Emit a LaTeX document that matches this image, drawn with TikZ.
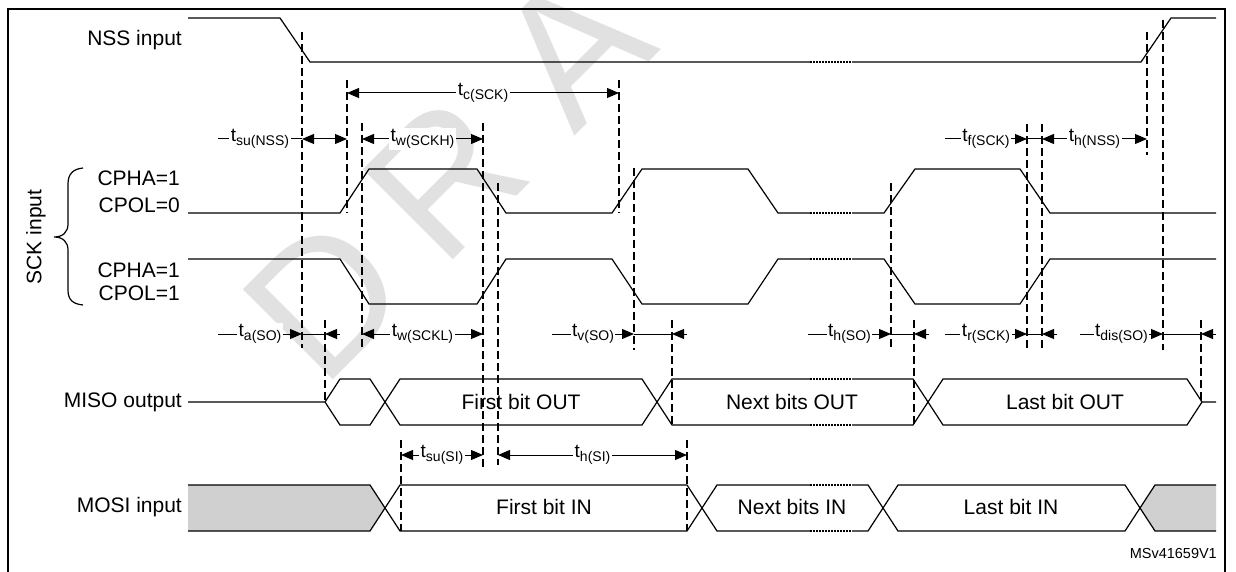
\documentclass[tikz,border=0pt]{standalone}
\usepackage{fontspec}
\setmainfont{Liberation Sans}
\usepackage{tikz}
\usetikzlibrary{arrows.meta}
\definecolor{mosigray}{RGB}{208, 208, 208}
\definecolor{wmgray}{RGB}{225, 225, 225}
\newcommand{\tparam}[1]{t\raisebox{-0.35ex}{\fontsize{14}{14}\selectfont #1}}

\begin{document}
\begin{tikzpicture}[
  x=1pt, y=-1pt,
  wave/.style   = {line width=1.2pt, line join=miter},
  dots/.style   = {line width=1.2pt, dash pattern=on 1.5pt off 1.5pt},
  guide/.style  = {line width=1.1pt, dash pattern=on 8pt off 4pt},
  dim/.style    = {{Triangle[length=12pt,width=10pt]}-{Triangle[length=12pt,width=10pt]}, line width=1pt},
  lead/.style   = {-{Triangle[length=12pt,width=10pt]}, line width=1pt},
  sig/.style    = {anchor=east, font=\fontsize{21}{25}\selectfont, inner sep=0pt},
  tlbl/.style   = {fill=white, inner sep=1.5pt, font=\fontsize{19}{22}\selectfont},
  data/.style   = {font=\fontsize{21}{25}\selectfont, inner sep=0pt},
  wmark/.style  = {text=wmgray, rotate=45, font=\fontsize{185}{185}\selectfont, inner sep=0pt},
]
  \useasboundingbox (0,0) rectangle (1236,572);

  % Watermark
  \foreach \ch/\cx/\cy in {D/325/298, R/445/178, A/573/48}
    \node[wmark] (wm\ch) at (\cx,\cy) {\ch};

  % Frame
  \draw[line width=2.6pt] (8,600) -- (8,9) -- (1225,9) -- (1225,600);

  % Signal names
  \node[sig] (nss)  at (182,40)  {NSS input};
  \node[sig] (cpha0) at (180,178) {CPHA=1};
  \node[sig] (cpol0) at (180,205) {CPOL=0};
  \node[sig] (cpha1) at (180,270) {CPHA=1};
  \node[sig] (cpol1) at (180,293) {CPOL=1};
  \node[sig] (miso) at (182,402) {MISO output};
  \node[sig] (mosi) at (182,507) {MOSI input};
  \node[sig, anchor=center, rotate=90] (sck) at (36,237) {SCK input};
  \draw[wave] (83,168) .. controls (73,169) and (68,174) .. (68,184) -- (68,224)
    .. controls (68,232) and (63,237) .. (54,237) .. controls (63,237) and (68,242) .. (68,250)
    -- (68,290) .. controls (68,300) and (73,304) .. (83,305);

  % Guides
  \foreach \gx/\ga/\gb in {302/32/348, 347/80/213, 362/123/350, 483/123/468,
      498/183/465, 619/80/213, 634/168/350, 672/320/425, 687/440/531,
      401/440/531, 891/183/348, 914/320/425, 1027/124/350, 1042/124/350,
      1147/32/155, 1163/20/350, 1201/320/400, 325/320/402}
    \draw[guide] (\gx,\ga) -- (\gx,\gb);

  % NSS
  \draw[wave] (188,18) -- (280,18) -- (310,62) -- (810,62);
  \draw[dots] (810,62) -- (852,62);
  \draw[wave] (852,62) -- (1141,62) -- (1171,18) -- (1216,18);

  % SCK, CPOL=0
  \draw[wave] (188,213) -- (340,213) -- (369,169) -- (477,169) -- (506,213) -- (612,213)
    -- (642,169) -- (748,169) -- (778,213) -- (810,213);
  \draw[dots] (810,213) -- (852,213);
  \draw[wave] (852,213) -- (884,213) -- (915,169) -- (1020,169) -- (1050,213) -- (1216,213);

  % SCK, CPOL=1
  \draw[wave] (188,259) -- (340,259) -- (369,304) -- (477,304) -- (506,259) -- (612,259)
    -- (642,304) -- (748,304) -- (778,259) -- (810,259);
  \draw[dots] (810,259) -- (852,259);
  \draw[wave] (852,259) -- (884,259) -- (915,304) -- (1020,304) -- (1050,259) -- (1216,259);

  % MISO
  \draw[wave] (188,402) -- (325,402) -- (340,379) -- (370,379) -- (400,425) -- (642,425)
    -- (672,379) -- (810,379);
  \draw[wave] (325,402) -- (340,425) -- (370,425) -- (400,379) -- (642,379) -- (672,425) -- (810,425);
  \draw[dots] (810,379) -- (852,379) (810,425) -- (852,425);
  \draw[wave] (852,379) -- (913,379) -- (943,425) -- (1187,425) -- (1202,402) -- (1216,402);
  \draw[wave] (852,425) -- (913,425) -- (943,379) -- (1187,379) -- (1202,402);
  \node[data] (bout1) at (521,402) {First bit OUT};
  \node[data] (boutn) at (792,402) {Next bits OUT};
  \node[data] (boutl) at (1065,402) {Last bit OUT};

  % MOSI
  \fill[mosigray] (188,485) -- (370,485) -- (385,508) -- (370,531) -- (188,531) -- cycle;
  \fill[mosigray] (1140,508) -- (1155,485) -- (1216,485) -- (1216,531) -- (1155,531) -- cycle;
  \draw[wave] (188,485) -- (370,485) -- (400,531) -- (687,531) -- (717,485) -- (810,485);
  \draw[wave] (188,531) -- (370,531) -- (400,485) -- (687,485) -- (717,531) -- (810,531);
  \draw[dots] (810,485) -- (852,485) (810,531) -- (852,531);
  \draw[wave] (852,485) -- (868,485) -- (898,531) -- (1125,531) -- (1155,485) -- (1216,485);
  \draw[wave] (852,531) -- (868,531) -- (898,485) -- (1125,485) -- (1155,531) -- (1216,531);
  \node[data] (bin1) at (544,507) {First bit IN};
  \node[data] (binn) at (792,507) {Next bits IN};
  \node[data] (binl) at (1011,507) {Last bit IN};

  % Timing: upper rows
  \draw[dim] (347,93) -- node[tlbl] (tc) {\tparam{c(SCK)}} (619,93);
  \draw[line width=1pt] (218,139) -- node[tlbl] (tsunss) {\tparam{su(NSS)}} (302,139);
  \draw[dim] (302,139) -- (347,139);
  \draw[dim] (362,139) -- node[tlbl] (twh) {\tparam{w(SCKH)}} (483,139);
  \draw[lead] (945,139) -- node[tlbl] (tf) {\tparam{f(SCK)}} (1027,139);
  \draw[line width=1pt] (1027,139) -- (1042,139);
  \draw[dim] (1042,139) -- node[tlbl] (thnss) {\tparam{h(NSS)}} (1147,139);

  % Timing: middle row
  \draw[lead] (218,334) -- node[tlbl] (ta) {\tparam{a(SO)}} (302,334);
  \draw[line width=1pt] (302,334) -- (325,334);
  \draw[lead] (340,334) -- (325,334);
  \draw[dim] (362,334) -- node[tlbl] (twl) {\tparam{w(SCKL)}} (483,334);
  \draw[lead] (552,334) -- node[tlbl] (tv) {\tparam{v(SO)}} (634,334);
  \draw[line width=1pt] (634,334) -- (672,334);
  \draw[lead] (687,334) -- (672,334);
  \draw[lead] (808,334) -- node[tlbl] (thso) {\tparam{h(SO)}} (891,334);
  \draw[line width=1pt] (891,334) -- (914,334);
  \draw[lead] (929,334) -- (914,334);
  \draw[lead] (945,334) -- node[tlbl] (tr) {\tparam{r(SCK)}} (1027,334);
  \draw[line width=1pt] (1027,334) -- (1042,334);
  \draw[lead] (1057,334) -- (1042,334);
  \draw[lead] (1080,334) -- node[tlbl] (tdis) {\tparam{dis(SO)}} (1163,334);
  \draw[line width=1pt] (1163,334) -- (1201,334);
  \draw[lead] (1216,334) -- (1201,334);

  % Timing: MOSI row
  \draw[dim] (401,455) -- node[tlbl] (tsusi) {\tparam{su(SI)}} (483,455);
  \draw[dim] (498,455) -- node[tlbl] (thsi) {\tparam{h(SI)}} (687,455);

  \node[anchor=east, font=\fontsize{14.5}{17}\selectfont, inner sep=0pt] (ref) at (1217,554) {MSv41659V1};
\end{tikzpicture}
\end{document}
